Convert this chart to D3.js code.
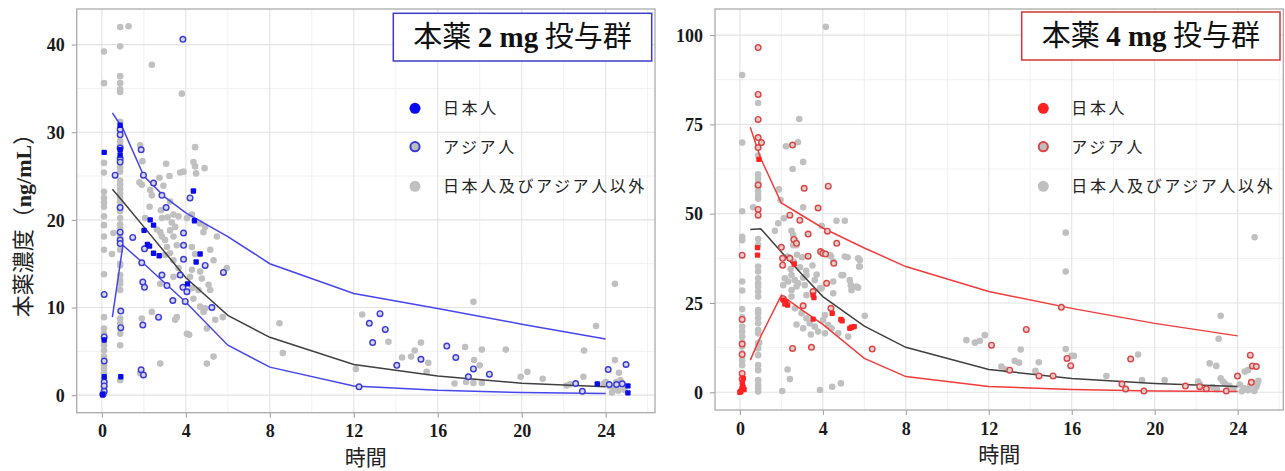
<!DOCTYPE html>
<html><head><meta charset="utf-8">
<script src="https://cdn.jsdelivr.net/npm/d3@7"></script>
<style>body{margin:0;background:#fff} svg{display:block}</style>
</head><body>
<svg id="c" width="1285" height="471"></svg>
<script>
// ---------- data ----------
const lineTimes = [0.5, 1, 2, 3, 4, 6, 8, 12, 16, 20, 24];
const mg2Upper  = [32.2, 30.4, 25.0, 22.6, 20.8, 18.1, 15.0, 11.6, 9.9, 8.1, 6.4];
const mg2Median = [23.5, 22.1, 19.2, 16.3, 13.4, 9.1, 6.6, 3.5, 2.2, 1.35, 0.95];
const mg2Lower  = [8.9, 17.1, 15.0, 12.8, 10.6, 5.7, 3.2, 1.06, 0.57, 0.3, 0.2];
const mg4Upper  = [74.2, 65.5, 53.0, 49.5, 46.0, 40.4, 35.2, 28.2, 23.5, 19.3, 15.8];
const mg4Median = [45.6, 45.8, 39.3, 33.0, 26.8, 18.5, 12.6, 6.4, 3.9, 2.5, 1.6];
const mg4Lower  = [9.0, 15.6, 27.2, 23.0, 19.0, 9.5, 4.4, 1.6, 0.8, 0.4, 0.2];

const xTicks = [0, 4, 8, 12, 16, 20, 24];
const mg2YTicks = [0, 10, 20, 30, 40];
const mg4YTicks = [0, 25, 50, 75, 100];
const legendLabels = ["日本人", "アジア人", "日本人及びアジア人以外"];
const panelTitles = [["本薬 ", "2 mg", " 投与群"], ["本薬 ", "4 mg", " 投与群"]];
const xTitle = "時間";
const yTitleParts = ["本薬濃度（", "ng/mL", "）"];

// 2 mg: others (grey)
const mg2Other = [
 [0.1,39.2],[0.1,35.6],[0.1,26.5],[0.1,25.4],[0.1,23.2],[0.1,22.5],[0.1,22.0],[0.1,21.5],[0.1,20.4],[0.1,19.4],[0.1,18.1],[0.1,16.6],[0.1,13.8],[0.1,8.9],[0.1,7.6],[0.1,7.0],[0.1,5.7],[0.1,5.1],[0.1,4.4],[0.1,3.4],[0.1,3.0],[0.1,2.5],[0.1,1.8],[0.1,1.0],[0.1,0.5],[0.1,0.2],
 [0.87,42.0],[0.87,39.8],[0.87,36.4],[0.87,35.6],[0.87,34.9],[0.87,34.6],[0.87,31.2],[0.87,30.6],[0.87,29.0],[0.87,28.5],[0.87,26.0],[0.87,25.5],[0.87,24.5],[0.87,24.0],[0.87,23.5],[0.87,23.0],[0.87,22.5],[0.87,22.0],[0.87,21.0],[0.87,20.2],[0.87,19.5],[0.87,19.0],[0.87,18.0],[0.87,16.6],[0.87,15.0],[0.87,14.8],[0.87,13.7],[0.87,13.1],[0.87,12.7],[0.87,12.0],[0.87,8.75],[0.87,8.2],[0.87,7.0],[0.87,5.7],[0.87,1.7],
 [0.48,16.1],[0.55,18.5],[1.27,42.1],[2.38,37.7],[3.81,34.4],
 [1.82,28.5],[1.93,26.7],[3.06,26.4],[3.22,25.0],[3.73,25.4],[3.89,25.5],[4.44,28.3],[4.36,26.6],[4.44,26.1],[4.49,25.3],[4.89,25.9],
 [1.79,24.3],[1.9,24.0],[2.3,23.4],[2.38,22.8],[2.74,24.8],[2.93,23.9],[3.25,22.1],[2.27,21.5],[2.81,21.1],[3.41,20.6],
 [2.06,20.2],[2.86,20.2],[3.13,20.3],[3.33,19.7],[3.49,19.2],[3.65,20.4],[4.05,20.2],[4.29,20.6],[4.68,19.6],[4.92,19.2],[4.84,18.6],[5.48,18.1],
 [2.62,18.9],[2.78,18.6],[2.86,18.1],[3.01,17.7],[3.25,18.8],[3.41,18.1],[3.1,16.9],[3.57,17.1],[3.25,16.2],[4.29,16.9],[5.32,15.4],[5.95,14.5],
 [3.01,16.0],[3.41,15.4],[3.65,14.5],[3.41,13.5],[2.78,12.7],[4.29,14.3],[4.68,14.1],[4.76,13.3],[4.29,12.2],[5.08,12.6],[5.16,12.0],[4.44,16.1],[5.16,16.6],
 [2.38,9.5],[1.9,8.75],[1.82,2.5],[2.78,3.6],[3.57,8.9],[3.49,8.6],[4.05,7.0],[4.16,6.9],[4.2,13.5],[4.36,11.0],[4.6,12.0],[4.68,10.1],[4.92,9.9],[4.84,9.5],[5.0,7.6],[5.4,8.6],[5.76,8.9],[5.0,3.6],[5.32,4.4],
 [8.46,8.2],[8.62,4.8],[12.1,3.0],[12.4,9.2],[13.65,6.1],[14.3,4.3],[14.73,4.4],[14.9,5.1],[15.2,6.0],[15.55,3.7],[15.47,2.66],[16.8,1.33],[17.3,5.5],[17.7,10.65],[17.73,4.0],[17.35,1.5],[17.7,1.4],[18.0,3.4],[18.1,5.2],[18.1,1.4],[19.24,5.2],[19.95,2.1],[20.27,2.66],[21.0,1.86],[22.14,1.1],[22.3,1.25],[22.94,2.1],[22.97,5.1],[23.54,7.9],[24.44,12.7],[24.44,4.0],[24.63,2.55],
 [24.0,1.5],[24.2,1.0],[24.4,0.8],[24.5,1.5],[24.6,0.5],[24.8,1.1],[24.9,0.6],[24.3,0.3],[23.9,1.3],[24.7,1.7]
];
// 2 mg: Asian (ring)
const mg2Asian = [
 [0.11,11.5],[0.11,6.65],[0.11,3.9],[0.11,1.5],[0.11,1.06],[0.11,0.45],[0.05,0.1],
 [0.87,30.3],[0.87,29.7],[0.87,28.2],[0.87,27.0],[0.87,26.6],[0.87,21.4],[0.87,18.6],[0.87,17.7],[0.87,17.3],[0.9,9.6],[0.9,7.7],
 [0.63,25.1],[1.87,28.0],[1.98,25.1],[2.46,24.2],[2.86,22.8],[3.06,21.4],[3.86,40.6],[3.89,18.5],[4.2,22.5],[1.47,18.0],[2.03,16.7],[3.89,17.1],[3.89,15.5],[4.92,14.8],[1.9,15.1],
 [1.95,12.9],[2.03,12.3],[1.95,8.0],[1.87,2.9],[1.98,2.3],[2.7,8.9],[2.86,13.7],[3.1,12.5],[3.38,10.8],[3.73,13.7],[3.86,12.3],[3.97,10.7],[4.05,11.8],[5.24,10.0],[5.79,14.0],
 [12.74,8.2],[13.25,9.3],[12.9,6.0],[13.5,7.5],[12.25,0.95],[14.05,3.4],[15.2,4.1],[16.43,5.6],[16.86,4.3],[17.7,3.0],[17.46,2.1],[18.46,2.4],[22.57,1.33],[22.89,0.45],[24.12,2.93],[24.97,3.5],[24.17,1.22],[24.52,1.22],[24.79,1.29]
];
// 2 mg: Japanese (filled)
const mg2Japanese = [
 [0.11,27.7],[0.87,30.8],[0.87,28.0],[0.87,27.4],[0.11,6.3],[0.11,2.1],[0.03,0.05],[0.9,2.1],
 [2.3,20.0],[2.46,19.4],[2.01,18.8],[2.17,17.2],[2.27,17.0],[2.46,16.2],[2.73,15.9],[4.36,23.3],[4.41,19.9],[4.68,16.1],[4.49,15.2],[4.08,12.7],
 [23.6,1.29],[25.06,1.06],[25.06,0.26]
];
// 4 mg: others (grey)
const mg4Other = [
 [0.11,88.8],[0.11,69.9],[0.11,50.7],[0.11,43.5],[0.11,42.6],[0.11,31.0],[0.11,28.5],[0.11,23.3],[0.11,21.0],[0.11,18.4],[0.11,17.0],[0.11,15.6],[0.11,14.0],[0.11,12.8],[0.11,10.9],[0.11,9.0],[0.11,7.6],
 [0.88,81.0],[0.88,66.3],[0.88,61.0],[0.88,59.8],[0.88,58.6],[0.88,57.4],[0.88,56.2],[0.88,55.0],[0.88,54.2],[0.88,42.9],[0.88,41.2],[0.88,35.2],[0.88,33.8],[0.88,31.9],[0.88,30.5],[0.88,29.6],[0.88,28.2],[0.88,26.8],[0.88,23.0],[0.88,22.1],[0.88,20.7],[0.88,19.3],[0.88,17.4],[0.88,16.5],[0.88,13.7],[0.88,12.3],[0.88,10.4],[0.88,7.6],[0.88,6.2],[0.88,3.4],[0.88,2.0],[0.88,1.1],[0.88,0.2],
 [4.14,102.3],[2.86,76.5],[2.8,70.0],[2.22,68.9],[3.05,64.5],[2.54,62.5],[0.64,51.8],[1.88,56.8],[1.96,53.8],[3.05,51.8],[2.12,48.7],[4.66,48.0],[5.06,48.0],[3.94,46.6],[1.69,45.2],[2.49,45.2],[1.85,47.3],[2.57,44.0],[2.65,42.6],[2.73,41.2],[4.39,38.1],[5.19,37.8],[5.7,37.5],
 [2.17,31.9],[2.33,31.0],[2.49,32.8],[2.65,31.4],[2.81,30.5],[3.05,32.1],[3.13,30.0],[2.09,30.0],[2.49,28.6],[2.73,29.6],[3.21,27.2],[2.49,26.8],[2.65,23.5],[2.97,22.1],[3.21,20.7],[3.37,19.3],[3.61,18.4],[3.77,17.0],[4.1,21.6],[4.01,20.2],[4.26,18.8],[4.42,17.9],[4.74,16.5],[2.73,19.0],[3.05,17.9],[3.42,16.2],[4.1,16.5],[5.22,15.6],
 [3.94,29.1],[4.5,31.0],[4.98,32.8],[5.3,31.4],[5.35,30.0],[5.38,28.6],[5.7,29.3],[5.75,35.2],[6.02,21.4],[2.3,6.4],[2.41,3.7],[2.04,0.36],[3.86,0.64],[4.45,1.57],[4.87,2.5],[0.93,13.9],
 [2.3,38.0],[2.6,36.5],[2.9,35.0],[3.2,34.0],[2.45,34.5],[3.5,35.5],[3.0,37.8],[2.75,38.5],[3.7,33.0],[2.57,41.2],[5.78,37.0],[5.78,35.2],[5.06,38.0],[4.34,38.4],[4.5,36.6],[4.9,32.8],[5.62,29.6],[4.5,27.7],[3.86,29.1],[3.21,32.8],[3.61,31.4],
 [10.92,14.6],[11.33,13.9],[11.57,14.4],[11.81,16.0],[13.54,12.0],[13.25,8.8],[13.46,8.3],[12.61,7.2],[12.82,6.4],[14.25,6.0],[14.41,8.4],[15.71,44.7],[15.71,33.8],[15.71,12.1],[15.98,10.2],[16.1,10.2],[17.67,4.56],[19.2,10.6],[19.39,3.4],[20.48,3.4],[22.09,3.0],[22.17,2.3],[22.65,8.1],[22.97,7.4],[23.18,21.4],[23.08,15.0],[23.18,3.9],[23.29,3.0],[24.82,43.4],[24.34,5.8],[24.5,6.2],
 [22.8,1.5],[23.0,0.8],[23.6,1.8],[23.8,1.0],[24.1,2.2],[24.3,1.2],[24.5,0.6],[24.7,2.8],[24.9,1.5],[25.0,3.2],[24.8,0.4],[24.95,2.3],[24.6,1.9],[24.2,0.3],[23.4,2.4]
];
// 4 mg: Asian (ring)
const mg4Asian = [
 [0.88,96.5],[0.88,83.4],[0.88,76.4],[0.88,71.3],[1.04,69.9],[0.88,68.5],[2.54,69.2],[3.1,57.1],[4.26,57.7],[0.88,58.0],[0.88,51.2],[0.88,49.6],[3.77,51.6],[2.41,49.6],[2.89,48.2],[4.22,45.1],[3.29,44.3],[4.67,41.7],[2.6,42.8],[2.73,41.7],[2.0,40.6],[2.06,37.5],[2.41,37.5],[3.29,38.1],[3.89,39.4],[4.0,38.9],[4.13,38.7],[4.53,36.1],[0.11,38.4],[2.06,35.6],[4.18,30.5],[3.53,28.2],[3.05,24.2],[2.09,26.2],[4.39,23.5],[2.54,12.3],[3.45,12.6],[6.38,12.1],[0.11,20.4],[0.11,13.5],[0.11,10.6],[0.11,5.3],[0.11,3.7],
 [15.5,23.8],[13.81,17.6],[12.13,13.2],[13.01,6.2],[14.42,4.6],[15.1,4.6],[15.77,9.5],[15.95,7.45],[18.42,2.3],[18.6,0.9],[18.84,9.3],[19.48,0.36],[21.48,1.76],[22.17,1.57],[22.49,1.0],[23.45,0.36],[23.99,4.56],[24.61,10.4],[24.71,7.4],[24.9,7.2],[24.66,2.8]
];
// 4 mg: Japanese (filled)
const mg4Japanese = [
 [0.92,65.2],[0.85,40.5],[0.85,38.4],[2.62,35.9],[3.53,27.2],[3.57,26.5],[2.09,25.8],[2.17,24.7],[2.3,24.4],[2.22,25.4],[4.45,22.1],[3.53,20.5],[4.87,20.4],[4.93,20.0],[5.3,17.9],[5.38,18.2],[5.51,18.4],
 [0.05,0.3],[0.1,1.0],[0.15,1.5],[0.2,0.8],[0.0,0.0],[0.12,2.5],[0.16,3.9]
];

// ---------- drawing ----------
const svg = d3.select("#c");
const CJK = "'Noto Sans CJK JP', 'Noto Sans CJK SC', sans-serif";
const SERIF = "'Liberation Serif', 'DejaVu Serif', serif";

function drawPanel(p) {
  const x = d3.scaleLinear().domain(p.xDomain).range([p.left, p.right]);
  const y = d3.scaleLinear().domain(p.yDomain).range([p.bottom, p.top]);
  const g = svg.append("g");

  // grid
  const xMinor = d3.range(2, p.xDomain[1], 4);
  const step = p.yTicks[1] - p.yTicks[0];
  const yMinor = p.yTicks.map(v => v + step / 2).filter(v => v < p.yDomain[1]);
  g.append("g").selectAll("line").data(xMinor).join("line")
    .attr("x1", d => x(d)).attr("x2", d => x(d)).attr("y1", p.top).attr("y2", p.bottom)
    .attr("stroke", "#efefef").attr("stroke-width", 0.9);
  g.append("g").selectAll("line").data(yMinor).join("line")
    .attr("y1", d => y(d)).attr("y2", d => y(d)).attr("x1", p.left).attr("x2", p.right)
    .attr("stroke", "#efefef").attr("stroke-width", 0.9);
  g.append("g").selectAll("line").data(xTicks).join("line")
    .attr("x1", d => x(d)).attr("x2", d => x(d)).attr("y1", p.top).attr("y2", p.bottom)
    .attr("stroke", "#e3e3e3").attr("stroke-width", 1.1);
  g.append("g").selectAll("line").data(p.yTicks).join("line")
    .attr("y1", d => y(d)).attr("y2", d => y(d)).attr("x1", p.left).attr("x2", p.right)
    .attr("stroke", "#e3e3e3").attr("stroke-width", 1.1);

  // axes
  const xa = g.append("g").attr("transform", `translate(0,${p.bottom})`)
    .call(d3.axisBottom(x).tickValues(xTicks).tickSize(5).tickPadding(7));
  const ya = g.append("g").attr("transform", `translate(${p.left},0)`)
    .call(d3.axisLeft(y).tickValues(p.yTicks).tickSize(5).tickPadding(7));
  [xa, ya].forEach(a => {
    a.select(".domain").remove();
    a.selectAll(".tick line").attr("stroke", "#9a9a9a");
    a.selectAll(".tick text").attr("font-family", SERIF).attr("font-weight", "bold")
      .attr("font-size", 18).attr("fill", "#1a1a1a");
  });
  xa.selectAll(".tick text").attr("dy", "0.7em");
  ya.selectAll(".tick text").attr("dy", "0.34em");

  // points: grey others
  g.append("g").selectAll("circle").data(p.other).join("circle")
    .attr("cx", d => x(d[0])).attr("cy", d => y(d[1])).attr("r", 3.3)
    .attr("fill", "#c0c0c0");

  // lines
  const line = d3.line().x((d, i) => x(lineTimes[i])).y(d => y(d));
  [p.upper, p.lower].forEach(arr => {
    g.append("path").datum(arr).attr("d", line).attr("fill", "none")
      .attr("stroke", p.lineColor).attr("stroke-width", 1.5);
  });
  g.append("path").datum(p.median).attr("d", line).attr("fill", "none")
    .attr("stroke", "#404040").attr("stroke-width", 1.5);

  // asian rings
  g.append("g").selectAll("circle").data(p.asian).join("circle")
    .attr("cx", d => x(d[0])).attr("cy", d => y(d[1])).attr("r", 2.8)
    .attr("fill", p.ringFill).attr("stroke", p.ringColor).attr("stroke-width", 1.4);
  // japanese filled
  g.append("g").selectAll("rect").data(p.japanese).join("rect")
    .attr("x", d => x(d[0]) - 2.7).attr("y", d => y(d[1]) - 2.7)
    .attr("width", 5.4).attr("height", 5.4).attr("rx", 1)
    .attr("fill", p.dotColor);

  // frame
  g.append("rect").attr("x", p.left).attr("y", p.top)
    .attr("width", p.right - p.left).attr("height", p.bottom - p.top)
    .attr("fill", "none").attr("stroke", "#ababab").attr("stroke-width", 1.3);

  // title box
  g.append("rect").attr("x", p.box[0]).attr("y", p.box[1]).attr("width", p.box[2]).attr("height", p.box[3])
    .attr("fill", "#fff").attr("stroke", p.boxColor).attr("stroke-width", 1.5);
  const t = g.append("text").attr("x", p.box[0] + p.box[2] / 2).attr("y", p.box[1] + p.box[3] / 2 + 10)
    .attr("text-anchor", "middle").attr("font-size", 29).attr("fill", "#111");
  t.append("tspan").attr("font-family", CJK).text(p.title[0]);
  t.append("tspan").attr("font-family", SERIF).attr("font-weight", "bold").text(p.title[1]);
  t.append("tspan").attr("font-family", CJK).text(p.title[2]);

  // legend
  const ly = [108.3, 146.7, 186.3];
  const lg = g.append("g");
  lg.append("circle").attr("cx", p.legX).attr("cy", ly[0]).attr("r", 5.5).attr("fill", p.dotColor);
  lg.append("circle").attr("cx", p.legX).attr("cy", ly[1]).attr("r", 4.6)
    .attr("fill", "#bdbdbd").attr("stroke", p.ringColor).attr("stroke-width", 2);
  lg.append("circle").attr("cx", p.legX).attr("cy", ly[2]).attr("r", 5.5).attr("fill", "#c0c0c0");
  lg.selectAll("text").data(legendLabels).join("text")
    .attr("x", p.legX + 28).attr("y", (d, i) => ly[i] + 6)
    .attr("font-family", CJK).attr("font-size", 16).attr("letter-spacing", 2.6)
    .attr("fill", "#222").text(d => d);

  // x title
  g.append("text").attr("x", (p.left + p.right) / 2).attr("y", p.bottom + 52)
    .attr("text-anchor", "middle").attr("font-family", CJK).attr("font-size", 21)
    .attr("fill", "#222").text(xTitle);
  return {x, y};
}

drawPanel({
  left: 76.7, right: 655, top: 9, bottom: 412.7,
  xDomain: [-1.2, 26.35], yDomain: [-2.0, 44.06], yTicks: mg2YTicks,
  other: mg2Other, asian: mg2Asian, japanese: mg2Japanese,
  upper: mg2Upper, median: mg2Median, lower: mg2Lower,
  lineColor: "#4646ee", ringColor: "#3a3ad8", ringFill: "#d4d4ea", dotColor: "#0a0aee",
  box: [393.3, 13.3, 258.4, 47.7], boxColor: "#3c3cc8", title: panelTitles[0],
  legX: 415
});
drawPanel({
  left: 715, right: 1283.3, top: 9, bottom: 410,
  xDomain: [-1.2, 26.2], yDomain: [-4.95, 107.3], yTicks: mg4YTicks,
  other: mg4Other, asian: mg4Asian, japanese: mg4Japanese,
  upper: mg4Upper, median: mg4Median, lower: mg4Lower,
  lineColor: "#f03c3c", ringColor: "#dc4444", ringFill: "#e2cccc", dotColor: "#ff2222",
  box: [1021.7, 12, 258.3, 48], boxColor: "#d03838", title: panelTitles[1],
  legX: 1043.3
});

// y title (left panel only)
const yt = svg.append("text").attr("transform", "translate(31,220) rotate(-90)")
  .attr("text-anchor", "middle").attr("font-size", 22).attr("fill", "#222");
yt.append("tspan").attr("font-family", CJK).text(yTitleParts[0]);
yt.append("tspan").attr("font-family", SERIF).attr("font-weight", "bold").text(yTitleParts[1]);
yt.append("tspan").attr("font-family", CJK).text(yTitleParts[2]);
</script>
</body></html>
